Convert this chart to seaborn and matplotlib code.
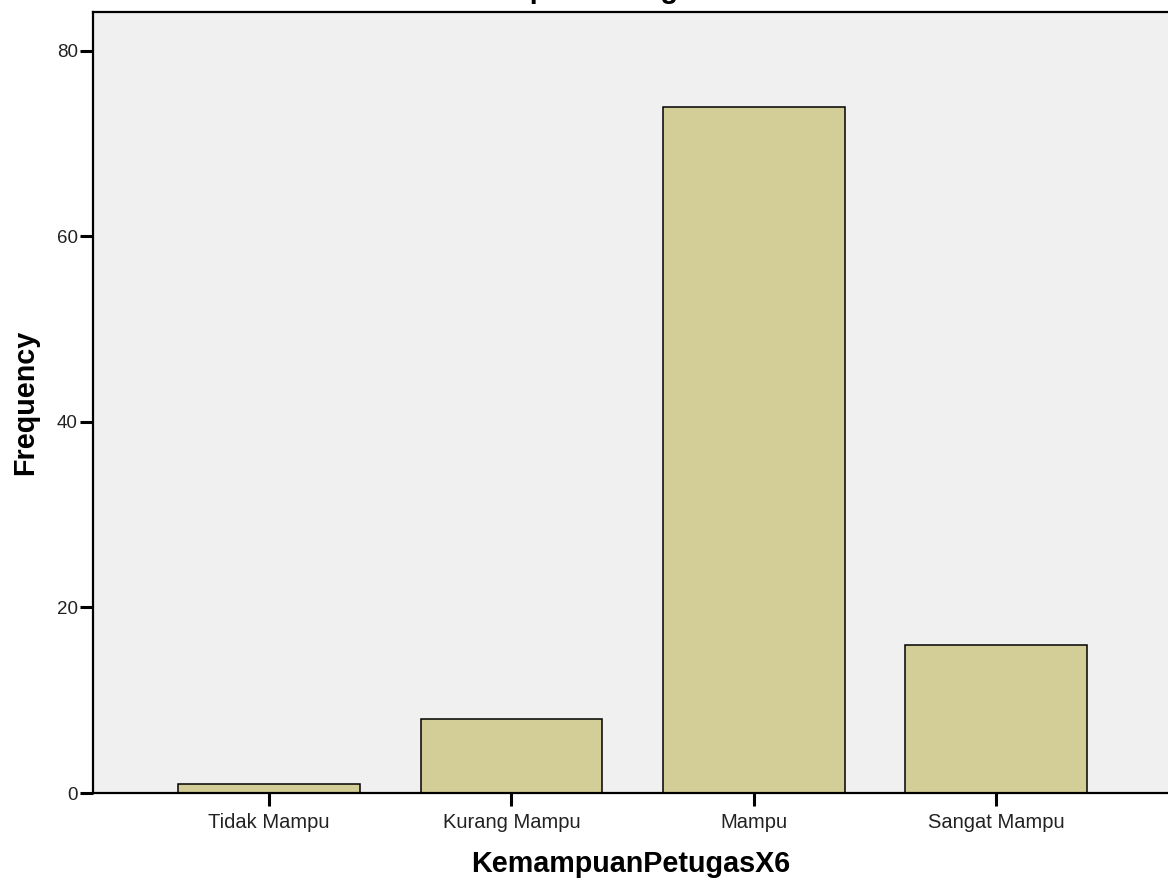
import matplotlib
matplotlib.use("Agg")
import matplotlib.pyplot as plt
import seaborn as sns
import pandas as pd

categories = ["Tidak Mampu", "Kurang Mampu", "Mampu", "Sangat Mampu"]
frequency = [1, 8, 74, 16]
y_ticks = [0, 20, 40, 60, 80]

plt.rcParams["font.family"] = ["Liberation Sans", "DejaVu Sans"]

df = pd.DataFrame({"KemampuanPetugasX6": categories, "Frequency": frequency})

fig = plt.figure(figsize=(11.68, 8.83), dpi=100)
ax = fig.add_axes([93 / 1168, 90 / 883, 1075 / 1168, 781 / 883])
ax.set_facecolor("#F0F0F0")

sns.barplot(data=df, x="KemampuanPetugasX6", y="Frequency", color="#D3CE97",
            width=0.75, edgecolor="black", linewidth=1.1, saturation=1, ax=ax)

ax.set_xlim(-0.727, 3.71)
ax.set_ylim(0, 84.2)
ax.set_yticks(y_ticks)
ax.tick_params(axis="both", direction="out", length=9.5, width=2.2,
               color="black", labelcolor="#222222")
ax.tick_params(axis="y", pad=1.5, labelsize=13.5)
ax.tick_params(axis="x", pad=5, labelsize=14.5)

for side in ["left", "bottom", "top"]:
    ax.spines[side].set_linewidth(1.6)
    ax.spines[side].set_color("black")
ax.spines["right"].set_visible(False)

ax.set_xlabel("KemampuanPetugasX6", fontsize=20.7, fontweight="bold", labelpad=13)
ax.set_ylabel("Frequency", fontsize=20.7, fontweight="bold", labelpad=13)

# title sits mostly above the image edge, only descenders show
fig.text(586 / 1168, 1.002, "KemampuanPetugasX6", fontsize=20.7, fontweight="bold",
         ha="center", va="baseline")

fig.savefig("out.png", dpi=100)
